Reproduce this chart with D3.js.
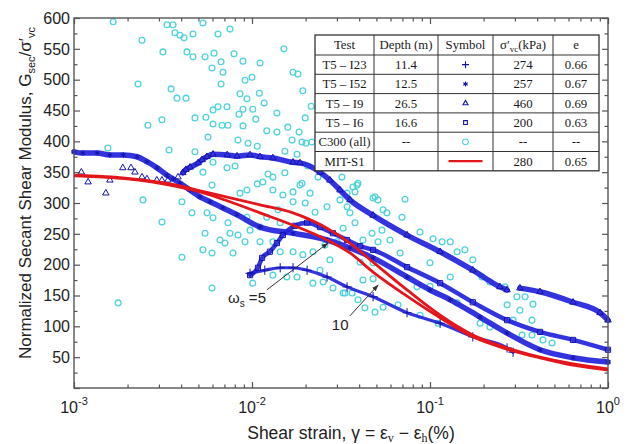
<!DOCTYPE html>
<html>
<head>
<meta charset="utf-8">
<script src="https://cdn.jsdelivr.net/npm/d3@7"></script>
<style>
  body { margin: 0; background: #fff; }
  svg { display: block; font-family: "Liberation Sans", Arial, sans-serif; }
</style>
</head>
<body>
<svg id="chart" width="628" height="444"></svg>
<script>
// ---- data: [shear strain %, Gsec/sigma'vc] ----
const xMajor = [1e-3, 1e-2, 1e-1, 1];
const xMajorExp = ["-3", "-2", "-1", "0"];
const yLabels = [50, 100, 150, 200, 250, 300, 350, 400, 450, 500, 550, 600];

const t5i52 = [[0.00100,383],[0.00112,381],[0.00135,381],[0.00159,378],[0.00189,378],[0.00226,375],[0.00257,367],[0.00293,357],[0.00333,345],[0.00360,339],[0.00394,332],[0.00448,321],[0.00510,310],[0.00581,302],[0.00687,292],[0.00824,281],[0.0111,261],[0.0170,251],[0.0264,240],[0.0355,227],[0.0479,211],[0.0743,180],[0.100,159],[0.130,143],[0.191,115],[0.271,89],[0.415,62],[0.636,49],[1.00,42]];

const t5i9Sparse = [[0.00110,350],[0.00120,334],[0.00151,316],[0.00159,337],[0.00188,357],[0.00209,357],[0.00220,350],[0.00241,342],[0.00257,339],[0.00292,337],[0.00312,337],[0.00337,337],[0.00384,342]];
const t5i9 = [[0.00409,349],[0.00425,354],[0.00449,358],[0.00498,365],[0.00524,370],[0.00558,375],[0.00604,379],[0.00725,378],[0.00824,376],[0.00975,378],[0.0111,375],[0.0131,373],[0.0170,366],[0.0186,365],[0.0241,350],[0.0274,337],[0.0312,321],[0.0355,305],[0.0479,280],[0.0743,248],[0.114,221],[0.174,191],[0.247,164],[0.271,159],null,[0.320,162],[0.415,156],[0.636,139],[0.902,122],[1.00,110]];

const t5i6 = [[0.00975,183],[0.0108,195],[0.0114,211],[0.0126,221],[0.0138,235],[0.0149,248],[0.0174,263],[0.0204,268],[0.0241,261],[0.0285,251],[0.0342,240],[0.0405,230],[0.0479,224],[0.0743,196],[0.114,170],[0.174,139],[0.271,110],[0.415,91],[0.636,78],[1.00,62]];

const t5i23 = [[0.00975,186],[0.0118,191],[0.0144,195],[0.0170,195],[0.0204,191],[0.0264,180],[0.0342,164],[0.0479,148],[0.0743,122],[0.114,105],[0.174,83],[0.271,65],[0.293,58]];

const mitS1w5 = [[0.00100,345],[0.00199,340],[0.00346,331],[0.00581,316],[0.0111,297],[0.0170,284],[0.0264,259],[0.0355,235],[0.0479,204],[0.0743,159],[0.114,118],[0.174,86],[0.271,65],[0.415,50],[0.636,39],[1.00,31]];
const mitS1w10 = [[0.00100,344],[0.00199,339],[0.00346,329],[0.00510,318],[0.00752,302],[0.0111,284],[0.0170,264],[0.0264,240],[0.0355,219],[0.0479,188],[0.0743,149],[0.114,114],[0.174,83],[0.271,63],[0.415,49],[0.636,37],[1.00,29]];

const c300 = [
[0.00166,594],[0.00333,589],[0.00360,589],[0.00530,592],[0.00752,582],[0.00369,576],[0.00394,572],[0.00415,568],[0.00466,574],[0.00644,574],
[0.00241,564],[0.00316,545],[0.00431,545],[0.00466,537],[0.00545,537],[0.00612,543],[0.00792,542],[0.0151,550],[0.00596,519],[0.00670,529],
[0.00687,512],[0.00890,530],[0.0111,527],[0.00914,499],[0.0100,504],[0.0170,512],[0.0181,509],[0.00229,493],[0.00351,485],[0.00670,493],
[0.0193,482],[0.00379,470],[0.00426,470],[0.00856,477],[0.00937,469],[0.0110,478],[0.0117,462],[0.0215,457],[0.00604,451],[0.00644,456],
[0.00724,456],[0.00890,452],[0.0101,452],[0.00845,444],[0.0105,436],[0.0138,446],[0.00312,435],[0.00478,438],[0.00551,439],[0.00604,428],
[0.00679,426],[0.00733,426],[0.00890,425],[0.0121,417],[0.0138,415],[0.0159,423],[0.0184,415],[0.00260,426],[0.00566,407],[0.00834,402],
[0.00950,397],[0.0107,392],[0.0168,402],[0.0191,399],[0.0217,399],[0.00155,389],[0.00342,386],[0.00478,383],[0.00604,366],[0.00724,357],
[0.00803,360],[0.0153,384],[0.0179,379],[0.0206,360],[0.0235,342],[0.00530,350],[0.0123,347],[0.0131,342],[0.0153,349],[0.0191,332],
[0.00596,329],[0.00937,321],[0.00856,316],[0.0107,331],[0.0115,334],[0.0131,321],[0.0149,313],[0.0170,318],[0.00244,305],[0.00404,302],
[0.00460,284],[0.00559,284],[0.00604,276],[0.00312,269],[0.0186,329],[0.0212,316],[0.0264,294],[0.0312,305],[0.0342,294],[0.0389,329],
[0.0170,302],[0.0199,300],[0.0226,285],[0.0140,289],[0.0121,277],[0.0144,268],[0.00937,277],[0.0111,261],[0.00975,256],[0.00733,268],
[0.00752,251],[0.00661,240],[0.00834,248],[0.00914,237],[0.00545,251],[0.00705,235],[0.00782,219],[0.00530,224],[0.00596,219],[0.00404,212],
[0.0111,237],[0.0131,237],[0.0144,221],[0.0170,221],[0.0193,216],[0.0220,221],[0.0257,232],[0.0300,237],[0.0274,208],[0.0241,191],
[0.0157,180],[0.0179,180],[0.0131,183],[0.0101,170],[0.0220,170],[0.0251,172],[0.0285,162],[0.0325,154],[0.00596,162],[0.00177,138],
[0.0394,332],[0.0369,326],[0.0479,308],[0.0510,305],[0.0724,306],[0.0545,289],[0.0573,284],[0.0355,284],[0.0696,277],[0.0379,268],
[0.0325,259],[0.0472,251],[0.0537,256],[0.0879,253],[0.104,242],[0.117,237],[0.130,237],[0.0420,240],[0.0510,237],[0.0596,240],
[0.142,221],[0.157,224],[0.0679,219],[0.174,208],[0.0405,204],[0.0479,203],[0.100,203],[0.130,180],[0.196,180],[0.217,172],
[0.264,164],[0.0420,175],[0.0479,177],[0.0333,154],[0.0365,154],[0.0394,143],[0.0431,130],[0.0491,123],[0.0545,131],[0.0661,135],
[0.100,165],[0.0845,164],[0.308,148],[0.342,148],[0.379,136],[0.271,135],[0.320,126],[0.293,110],[0.374,110],[0.329,86],
[0.374,86],[0.431,78],[0.485,73],[0.0879,118],[0.111,105],[0.191,105],[0.217,99],[0.142,138],[0.0199,438],[0.0201,397],
[0.0320,342],[0.0379,318],[0.0342,316],[0.0491,310]
];

const tableHeader = ["Test", "Depth (m)", "Symbol", "σ′vc (kPa)", "e"];
const tableRows = [
  ["T5 – I23", "11.4", "plus", "274", "0.66"],
  ["T5 – I52", "12.5", "star", "257", "0.67"],
  ["T5 – I9", "26.5", "tri", "460", "0.69"],
  ["T5 – I6", "16.6", "sq", "200", "0.63"],
  ["C300 (all)", "--", "circ", "--", "--"],
  ["MIT-S1", "", "line", "280", "0.65"]
];

// annotation arrows: from, to and label anchor, in data units
const notes = [
  { sub: true, label: "ω", s: "s", rest: " =5", from: [0.0121, 159], to: [0.0267, 235], at: [0.00733, 138] },
  { sub: false, label: "10", from: [0.0355, 117], to: [0.0511, 167], at: [0.0281, 94] }
];

/////////////////////// chart
const svg = d3.select("#chart");
const x = d3.scaleLog().domain([1e-3, 1]).range([74, 608]);
const y = d3.scaleLinear().domain([0, 600]).range([388, 18]);

const blue = "#2222dc", blueDark = "#1414aa", cyan = "#4fd3dc", red = "#e3161c", axisCol = "#555";

svg.append("defs").append("marker")
  .attr("id", "arrow").attr("viewBox", "0 0 10 10")
  .attr("refX", 9).attr("refY", 5)
  .attr("markerWidth", 7).attr("markerHeight", 7)
  .attr("orient", "auto-start-reverse")
  .append("path").attr("d", "M0,1.5L10,5L0,8.5z").attr("fill", "#333");

const plot = svg.append("g");

// C300 scatter
plot.append("g").selectAll("circle").data(c300).join("circle")
  .attr("cx", d => x(d[0])).attr("cy", d => y(d[1]))
  .attr("r", 2.9).attr("fill", "none")
  .attr("stroke", cyan).attr("stroke-width", 1.3);

const line = d3.line().defined(d => d)
  .x(d => x(d[0])).y(d => y(d[1]))
  .curve(d3.curveMonotoneX);

const band = (data, w) => plot.append("path").datum(data)
  .attr("d", line).attr("fill", "none")
  .attr("stroke", blue).attr("stroke-width", w)
  .attr("stroke-linecap", "round").attr("opacity", 0.92);

band(t5i23, 3.2);
band(t5i6, 4.5);
band(t5i52, 5.5);
band(t5i9, 5.5);

const symbols = {
  plus: d3.symbol().type(d3.symbolPlus).size(30),
  star: d3.symbol().type(d3.symbolAsterisk).size(22),
  tri: d3.symbol().type(d3.symbolTriangle2).size(30),
  sq: d3.symbol().type(d3.symbolSquare2).size(34),
  circ: d3.symbol().type(d3.symbolCircle).size(40)
};

const marks = (data, sym) => plot.append("g").selectAll("path")
  .data(data.filter(d => d)).join("path")
  .attr("transform", d => `translate(${x(d[0])},${y(d[1])})`)
  .attr("d", symbols[sym]).attr("fill", "none")
  .attr("stroke", blueDark).attr("stroke-width", 1);

marks(t5i23, "plus");
marks(t5i6, "sq");
marks(t5i52, "star");
marks(t5i9, "tri");
marks(t5i9Sparse, "tri");

// MIT-S1 curves
[mitS1w5, mitS1w10].forEach(data => {
  plot.append("path").datum(data)
    .attr("d", line).attr("fill", "none")
    .attr("stroke", red).attr("stroke-width", 2.8);
});

// annotations
notes.forEach(n => {
  plot.append("line")
    .attr("x1", x(n.from[0])).attr("y1", y(n.from[1]))
    .attr("x2", x(n.to[0])).attr("y2", y(n.to[1]))
    .attr("stroke", "#333").attr("stroke-width", 1)
    .attr("marker-end", "url(#arrow)");
  const t = plot.append("text")
    .attr("x", x(n.at[0])).attr("y", y(n.at[1]))
    .attr("font-size", 15).attr("fill", "#222");
  t.append("tspan").text(n.label);
  if (n.sub) {
    t.append("tspan").attr("font-size", 10).attr("dy", 4).text(n.s);
    t.append("tspan").attr("dy", -4).text(n.rest);
  }
});

// axes: inward ticks on all four sides
const xMinor = x.ticks().filter(v => !xMajor.some(m => Math.abs(m - v) < 1e-9));
const yMinor = d3.range(25, 600, 50);
const yMajorT = d3.range(0, 601, 50);

const axisG = svg.append("g");
const addAxis = (axis, tx) => {
  const g = axisG.append("g").attr("transform", tx).call(axis);
  g.selectAll(".domain").remove();
  g.selectAll("line").attr("stroke", axisCol).attr("stroke-width", 1.2);
  g.selectAll("text").remove();
};
addAxis(d3.axisBottom(x).tickValues(xMajor).tickSize(-6), "translate(0,388)");
addAxis(d3.axisBottom(x).tickValues(xMinor).tickSize(-3.5), "translate(0,388)");
addAxis(d3.axisTop(x).tickValues(xMajor).tickSize(-6), "translate(0,18)");
addAxis(d3.axisTop(x).tickValues(xMinor).tickSize(-3.5), "translate(0,18)");
addAxis(d3.axisLeft(y).tickValues(yMajorT).tickSize(-6), "translate(74,0)");
addAxis(d3.axisLeft(y).tickValues(yMinor).tickSize(-3.5), "translate(74,0)");
addAxis(d3.axisRight(y).tickValues(yMajorT).tickSize(-6), "translate(608,0)");
addAxis(d3.axisRight(y).tickValues(yMinor).tickSize(-3.5), "translate(608,0)");

axisG.append("rect")
  .attr("x", 74).attr("y", 18).attr("width", 608 - 74).attr("height", 388 - 18)
  .attr("fill", "none").attr("stroke", axisCol).attr("stroke-width", 1.4);

// tick labels
axisG.append("g").selectAll("text").data(yLabels).join("text")
  .attr("x", 70).attr("y", d => y(d)).attr("dy", "0.36em")
  .attr("text-anchor", "end").attr("font-size", 16).attr("fill", "#222")
  .text(d => d);

const xl = axisG.append("g").selectAll("text").data(xMajor).join("text")
  .attr("x", d => x(d)).attr("y", 413)
  .attr("text-anchor", "middle").attr("font-size", 16).attr("fill", "#222");
xl.append("tspan").text("10");
xl.append("tspan").attr("font-size", 11).attr("dy", -8).text((d, i) => xMajorExp[i]);

// axis titles
const xt = svg.append("text")
  .attr("x", 351).attr("y", 439).attr("text-anchor", "middle")
  .attr("font-size", 17.5).attr("fill", "#222");
xt.append("tspan").text("Shear strain, γ = ε");
xt.append("tspan").attr("font-size", 12).attr("dy", 3).attr("font-family", "Liberation Serif").text("v");
xt.append("tspan").attr("dy", -3).text(" − ε");
xt.append("tspan").attr("font-size", 12).attr("dy", 3).attr("font-family", "Liberation Serif").text("h");
xt.append("tspan").attr("dy", -3).text("(%)");

const yt = svg.append("text")
  .attr("transform", "translate(31,193) rotate(-90)")
  .attr("text-anchor", "middle").attr("font-size", 17).attr("fill", "#222");
yt.append("tspan").text("Normalized Secant Shear Modulus,  G");
yt.append("tspan").attr("font-size", 11).attr("dy", 4).text("sec");
yt.append("tspan").attr("dy", -4).text("/σ′");
yt.append("tspan").attr("font-size", 11).attr("dy", 4).text("vc");

// table
const colX = [315, 374, 438, 493, 553, 599];
const tTop = 35, headH = 20, rowH = 19.3;
const rowY = [tTop, tTop + headH].concat(tableRows.map((r, i) => tTop + headH + rowH * (i + 1)));
const tbl = svg.append("g").attr("font-family", "'Liberation Serif', 'DejaVu Serif', serif")
  .attr("font-size", 12.8).attr("fill", "#1a1a1a");

tbl.append("rect")
  .attr("x", colX[0]).attr("y", rowY[0])
  .attr("width", colX[5] - colX[0]).attr("height", rowY[rowY.length - 1] - rowY[0])
  .attr("fill", "#fff").attr("stroke", "#333").attr("stroke-width", 1.3);
rowY.slice(1, -1).forEach(v => tbl.append("line")
  .attr("x1", colX[0]).attr("x2", colX[5]).attr("y1", v).attr("y2", v)
  .attr("stroke", "#333").attr("stroke-width", 1));
colX.slice(1, -1).forEach(v => tbl.append("line")
  .attr("x1", v).attr("x2", v).attr("y1", rowY[0]).attr("y2", rowY[rowY.length - 1])
  .attr("stroke", "#333").attr("stroke-width", 1));

const cx = i => (colX[i] + colX[i + 1]) / 2;
tableHeader.forEach((h, i) => {
  const t = tbl.append("text").attr("x", cx(i)).attr("y", (rowY[0] + rowY[1]) / 2)
    .attr("dy", "0.35em").attr("text-anchor", "middle");
  if (h.startsWith("σ′vc")) {
    t.append("tspan").text("σ′");
    t.append("tspan").attr("font-size", 9).attr("dy", 3).text("vc");
    t.append("tspan").attr("dy", -3).text("(kPa)");
  } else t.text(h);
});

tableRows.forEach((r, ri) => {
  const cy = (rowY[ri + 1] + rowY[ri + 2]) / 2;
  r.forEach((v, ci) => {
    if (ci === 2) {
      if (v === "line") {
        tbl.append("line").attr("x1", cx(2) - 17).attr("x2", cx(2) + 17)
          .attr("y1", cy).attr("y2", cy).attr("stroke", red).attr("stroke-width", 2.4);
      } else {
        tbl.append("path").attr("transform", `translate(${cx(2)},${cy})`)
          .attr("d", symbols[v].size(v === "circ" ? 26 : 18)())
          .attr("fill", "none").attr("stroke", v === "circ" ? cyan : blueDark)
          .attr("stroke-width", 1.1);
      }
    } else {
      tbl.append("text").attr("x", cx(ci)).attr("y", cy).attr("dy", "0.35em")
        .attr("text-anchor", "middle").text(v);
    }
  });
});
</script>
</body>
</html>
